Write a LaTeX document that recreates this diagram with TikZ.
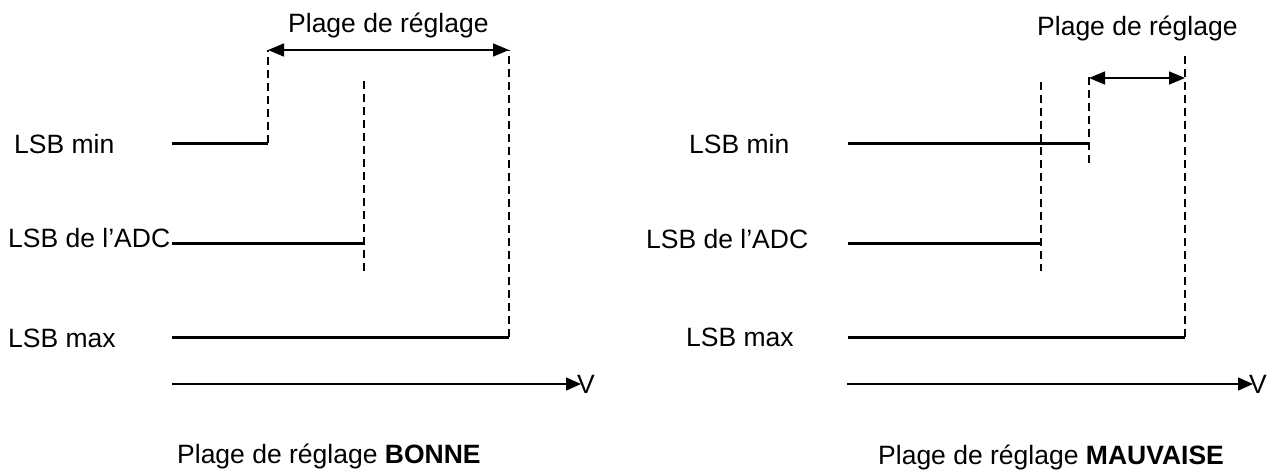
\documentclass[tikz,border=0pt]{standalone}
\usepackage{fontspec}
\setmainfont{Liberation Sans}
\usetikzlibrary{arrows.meta}
\tikzset{
  lbl/.style={anchor=base west, inner sep=0pt, font=\fontsize{26.5}{30}\selectfont},
  level/.style={line width=3pt},
  guide/.style={line width=1.5pt, dash pattern=on 8pt off 5pt},
  spanarrow/.style={line width=1.5pt, {Triangle[length=16pt,width=13pt]}-{Triangle[length=16pt,width=13pt]}},
  vaxis/.style={line width=1.5pt, -{Triangle[length=15pt,width=13pt]}}
}
\begin{document}
\begin{tikzpicture}[x=1pt,y=-1pt]
\useasboundingbox (0,0) rectangle (1285,474);
% ---------- left panel ----------
\node[lbl] (Ltitle) at (288,32) {Plage de réglage};
\node[lbl] (Lminl) at (14,153) {LSB min};
\node[lbl] (Ladcl) at (8,247) {LSB de l’ADC};
\node[lbl] (Lmaxl) at (8,347) {LSB max};
\node[lbl] (LV) at (577,393) {V};
\node[lbl] (Lcap) at (177,463) {Plage de réglage \textbf{BONNE}};
\coordinate (Lmin0) at (172,143);
\coordinate (Lmin1) at (268,143);
\coordinate (Ltop1) at (268,50);
\coordinate (Ladc0) at (172,243);
\coordinate (Ladc1) at (364,243);
\coordinate (Ladct) at (364,81);
\coordinate (Ladcb) at (364,271);
\coordinate (Lmax0) at (172,337);
\coordinate (Lmax1) at (509,337);
\coordinate (Ltop2) at (509,50);
\coordinate (Lax0) at (172,384);
\coordinate (Lax1) at (581,384);
\draw[level] (Lmin0) -- (Lmin1);
\draw[level] (Ladc0) -- (Ladc1);
\draw[level] (Lmax0) -- (Lmax1);
\draw[guide] (Lmin1) -- (Ltop1);
\draw[guide] (Ladct) -- (Ladcb);
\draw[guide] (Lmax1) -- (Ltop2);
\draw[spanarrow] (Ltop1) -- (Ltop2);
\draw[vaxis] (Lax0) -- (Lax1);
% ---------- right panel ----------
\node[lbl] (Rtitle) at (1037,35) {Plage de réglage};
\node[lbl] (Rminl) at (689,153) {LSB min};
\node[lbl] (Radcl) at (646,248) {LSB de l’ADC};
\node[lbl] (Rmaxl) at (686,346) {LSB max};
\node[lbl] (RV) at (1249,393) {V};
\node[lbl] (Rcap) at (878,464) {Plage de réglage \textbf{MAUVAISE}};
\coordinate (Rmin0) at (848,143);
\coordinate (Rmin1) at (1089,143);
\coordinate (Rmint) at (1089,77);
\coordinate (Rminb) at (1089,167);
\coordinate (Radc0) at (848,243);
\coordinate (Radc1) at (1041,243);
\coordinate (Radct) at (1041,82);
\coordinate (Radcb) at (1041,271);
\coordinate (Rmax0) at (848,337);
\coordinate (Rmax1) at (1185,337);
\coordinate (Rtop) at (1185,53);
\coordinate (Ra0) at (1089,78);
\coordinate (Ra1) at (1185,78);
\coordinate (Rax0) at (847,384);
\coordinate (Rax1) at (1253,384);
\draw[level] (Rmin0) -- (Rmin1);
\draw[level] (Radc0) -- (Radc1);
\draw[level] (Rmax0) -- (Rmax1);
\draw[guide] (Rmint) -- (Rminb);
\draw[guide] (Radct) -- (Radcb);
\draw[guide] (Rmax1) -- (Rtop);
\draw[spanarrow] (Ra0) -- (Ra1);
\draw[vaxis] (Rax0) -- (Rax1);
\end{tikzpicture}
\end{document}
